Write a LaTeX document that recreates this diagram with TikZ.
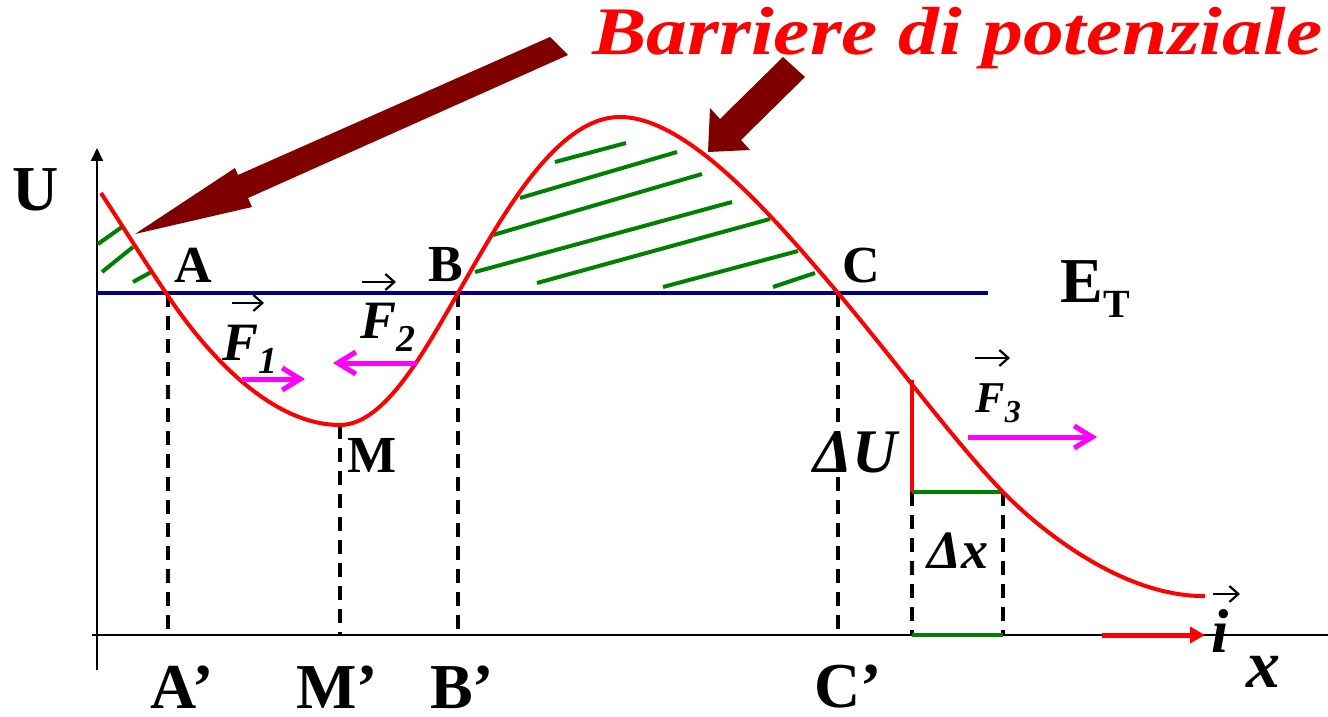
\documentclass[tikz,border=0pt]{standalone}
\usepackage{fontspec}
\setmainfont{Liberation Serif}
\usetikzlibrary{arrows.meta}
\definecolor{darkred}{RGB}{128,0,0}
\definecolor{navyblue}{RGB}{0,0,128}
\definecolor{hgreen}{RGB}{0,128,0}
\definecolor{mag}{RGB}{255,0,255}
\begin{document}
\begin{tikzpicture}[x=0.5pt,y=-0.5pt,
  lbl/.style={inner sep=0pt,font=\fontsize{26}{30}\selectfont\bfseries},
  biglbl/.style={inner sep=0pt,font=\fontsize{32}{34}\selectfont\bfseries},
  ital/.style={inner sep=0pt,font=\bfseries\itshape},
  axis/.style={line width=1pt,black},
  dashln/.style={line width=1.7pt,black,dash pattern=on 7pt off 4.5pt},
  hatch/.style={line width=2pt,hgreen},
  force/.style={line width=2.5pt,mag,-{Straight Barb[length=9pt,width=11pt]}},
  vecarrow/.style={line width=1.1pt,black,-{Straight Barb[length=4.5pt,width=8pt]}},
  bigarrow/.style={fill=darkred,draw=none}]
\useasboundingbox (0,0) rectangle (1328,717);

% axes
\draw[axis,-{Triangle[length=6.5pt,width=6pt]}] (97,670) -- (97,148);
\draw[axis] (92,635) -- (1328,635);

% energy level
\draw[line width=2pt,navyblue] (97,293) -- (988,293);

% hatching
\draw[hatch] (98,244) -- (122,227);
\draw[hatch] (102,272) -- (133,247);
\draw[hatch] (133,282) -- (153,271);
\draw[hatch] (555,162) -- (626,143);
\draw[hatch] (520,198) -- (677,152);
\draw[hatch] (493,235) -- (702,174);
\draw[hatch] (475,272) -- (732,202);
\draw[hatch] (537,283) -- (770,219);
\draw[hatch] (663,287) -- (798,251);
\draw[hatch] (773,287) -- (815,273);

% dashed projections
\draw[dashln] (168,293) -- (168,635);
\draw[dashln] (340,425) -- (340,635);
\draw[dashln] (458,293) -- (458,635);
\draw[dashln] (838,293) -- (838,635);
\draw[dashln] (912,492) -- (912,635);
\draw[dashln] (1003,492) -- (1003,635);

% delta construction
\draw[line width=2pt,hgreen] (912,492) -- (1003,492);
\draw[line width=2pt,hgreen] (912,635) -- (1003,635);
\draw[line width=2pt,red] (912,380) -- (912,492);

% potential curve
\draw[line width=2pt,red]
  (101,193) .. controls (125,230) and (145,262) .. (166,293)
  .. controls (205,352) and (270,425) .. (340,425)
  .. controls (385,425) and (425,350) .. (458,293)
  .. controls (500,220) and (555,117) .. (620,117)
  .. controls (690,117) and (780,225) .. (838,293)
  .. controls (888,352) and (958,446) .. (1003,492)
  .. controls (1050,540) and (1130,597) .. (1205,596);

% big arrows
\fill[bigarrow] (550,37) -- (238,175) -- (235,168) -- (135,234) -- (252,207) -- (248,198) -- (568,55) -- cycle;
\fill[bigarrow] (783,57) -- (720,119) -- (710,108) -- (708,152) -- (750,150) -- (741,140) -- (805,77) -- cycle;

% title
\node[inner sep=0pt,anchor=base west,text=red] (title) at (592,55)
  {\scalebox{1.2}[1]{\fontsize{34}{40}\selectfont\bfseries\itshape Barriere di potenziale}};

% force arrows
\draw[force] (242,379) -- (305,379);
\draw[force] (417,363) -- (333,363);
\draw[force] (968,437) -- (1097,437);

% force labels
\node[ital,anchor=base west] (F1) at (222,360)
  {\fontsize{27}{30}\selectfont F\raisebox{-6.5pt}{\fontsize{19}{20}\selectfont 1}};
\draw[vecarrow] (232,303) -- (264,303);
\node[ital,anchor=base west] (F2) at (360,338)
  {\fontsize{27}{30}\selectfont F\raisebox{-6.5pt}{\fontsize{19}{20}\selectfont 2}};
\draw[vecarrow] (362,282) -- (396,282);
\node[ital,anchor=base west] (F3) at (975,412)
  {\fontsize{22}{26}\selectfont F\raisebox{-5pt}{\fontsize{16}{18}\selectfont 3}};
\draw[vecarrow] (975,358) -- (1010,358);

% point labels
\node[biglbl] (U) at (36,190) {U};
\node[lbl] (A) at (193,265) {A};
\node[lbl] (B) at (446,265) {B};
\node[lbl] (C) at (861,266) {C};
\node[lbl] (M) at (372,455) {M};
\node[biglbl] (Ap) at (182,687) {A’};
\node[biglbl] (Mp) at (337,687) {M’};
\node[biglbl] (Bp) at (462,687) {B’};
\node[biglbl] (Cp) at (848,687) {C’};
\node[biglbl,anchor=base west] (ET) at (1060,302)
  {E\raisebox{-7.5pt}{\fontsize{20}{22}\selectfont T}};

% deltas
\node[ital,anchor=base west] (dU) at (813,472) {\fontsize{31}{34}\selectfont ΔU};
\node[ital,anchor=base west] (dx) at (927,568) {\fontsize{27}{30}\selectfont Δx};

% unit vector
\draw[line width=2.5pt,red,-{Triangle[length=7.5pt,width=8pt]}] (1102,635) -- (1205,635);
\node[ital,anchor=base west] (i) at (1211,652) {\fontsize{31}{34}\selectfont i};
\draw[vecarrow] (1213,594) -- (1240,594);
\node[ital,anchor=base west] (x) at (1246,687) {\fontsize{34}{36}\selectfont x};
\end{tikzpicture}
\end{document}
